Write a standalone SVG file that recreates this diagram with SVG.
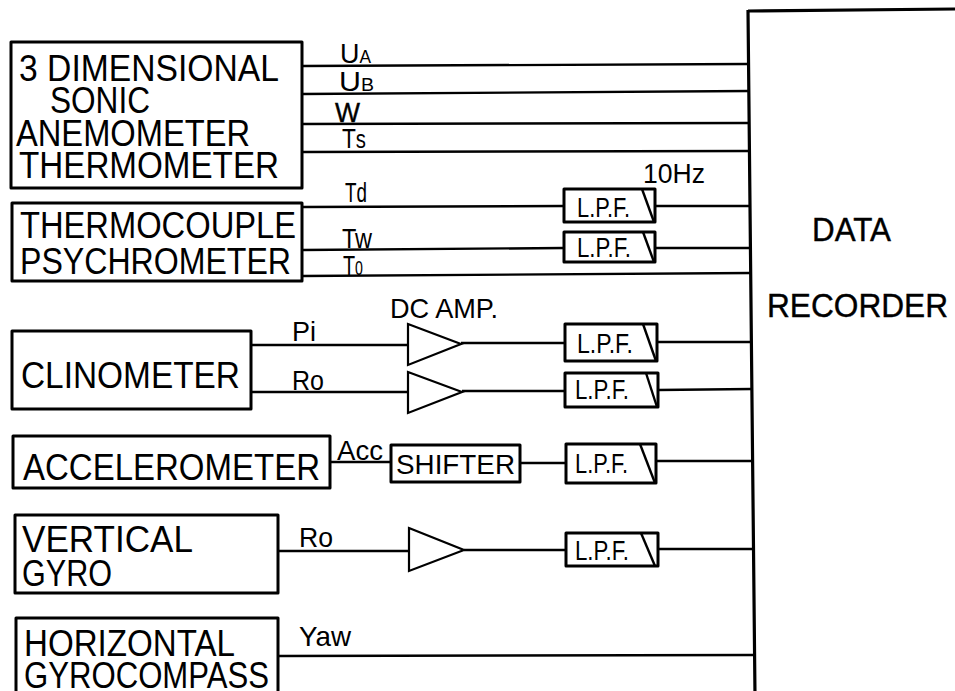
<svg xmlns="http://www.w3.org/2000/svg" width="955" height="691" viewBox="0 0 955 691">
<style>
text{font-family:"Liberation Sans",Arial,sans-serif;fill:#000;font-size:36px}
.m{font-size:28px}
.f{font-size:28px;stroke:#000;stroke-width:.4px}
.b{fill:#fff;stroke:#000;stroke-width:3px;stroke-linejoin:round}
.t{fill:#fff;stroke:#000;stroke-width:2.2px}
.c line{stroke:#000;stroke-width:2.4px}
.d{stroke:#000;stroke-width:2.4px}
</style>
<rect width="955" height="691" fill="#fff"/>
<g id="connectors" class="c">
<line x1="302" y1="66" x2="748" y2="64"/>
<line x1="302" y1="94" x2="749" y2="91"/>
<line x1="299" y1="124" x2="749" y2="123"/>
<line x1="302" y1="152" x2="750" y2="151"/>
<line x1="302" y1="207" x2="564" y2="206"/>
<line x1="655" y1="206" x2="750" y2="206"/>
<line x1="302" y1="250" x2="564" y2="248"/>
<line x1="655" y1="248" x2="751" y2="248"/>
<line x1="302" y1="276" x2="751" y2="273"/>
<line x1="251" y1="345" x2="408" y2="345"/>
<line x1="461" y1="343" x2="565" y2="343"/>
<line x1="657" y1="342" x2="752" y2="342"/>
<line x1="251" y1="392" x2="408" y2="392"/>
<line x1="462" y1="391" x2="565" y2="391"/>
<line x1="658" y1="390" x2="752" y2="389"/>
<line x1="330" y1="462" x2="391" y2="462"/>
<line x1="520" y1="463" x2="566" y2="463"/>
<line x1="656" y1="461" x2="752" y2="461"/>
<line x1="278" y1="551" x2="409" y2="551"/>
<line x1="464" y1="550" x2="566" y2="550"/>
<line x1="658" y1="549" x2="754" y2="549"/>
<line x1="278" y1="656" x2="754" y2="655"/>
</g>
<g id="sonic"><rect class="b" x="11" y="42" width="291" height="146"/>
<text x="19" y="81" textLength="260" lengthAdjust="spacingAndGlyphs">3 DIMENSIONAL</text>
<text x="50" y="113" textLength="100" lengthAdjust="spacingAndGlyphs">SONIC</text>
<text x="16" y="146" textLength="234" lengthAdjust="spacingAndGlyphs">ANEMOMETER</text>
<text x="19" y="178" textLength="260" lengthAdjust="spacingAndGlyphs">THERMOMETER</text></g>
<g id="psychrometer"><rect class="b" x="12" y="203" width="290" height="78"/>
<text x="20" y="238" textLength="276" lengthAdjust="spacingAndGlyphs">THERMOCOUPLE</text>
<text x="20" y="274" textLength="271" lengthAdjust="spacingAndGlyphs">PSYCHROMETER</text></g>
<g id="clinometer"><rect class="b" x="12" y="331" width="239" height="78"/>
<text x="21" y="388" textLength="219" lengthAdjust="spacingAndGlyphs">CLINOMETER</text></g>
<g id="accelerometer"><rect class="b" x="13" y="436" width="317" height="52"/>
<text x="23" y="480" textLength="297" lengthAdjust="spacingAndGlyphs">ACCELEROMETER</text></g>
<g id="vertical-gyro"><rect class="b" x="15" y="515" width="263" height="78"/>
<text x="22" y="552" textLength="171" lengthAdjust="spacingAndGlyphs">VERTICAL</text>
<text x="22" y="586" textLength="90" lengthAdjust="spacingAndGlyphs">GYRO</text></g>
<g id="horizontal-gyrocompass"><rect class="b" x="16" y="618" width="262" height="90"/>
<text x="24" y="656" textLength="211" lengthAdjust="spacingAndGlyphs">HORIZONTAL</text>
<text x="24" y="688" textLength="245" lengthAdjust="spacingAndGlyphs">GYROCOMPASS</text></g>
<g id="recorder">
<path d="M748 11L955 9M748 10L755 695" fill="none" stroke="#000" stroke-width="3.2"/>
<text x="812" y="241" class="f" style="font-size:33px" textLength="79" lengthAdjust="spacingAndGlyphs">DATA</text>
<text x="767" y="317" class="f" style="font-size:34px" textLength="181" lengthAdjust="spacingAndGlyphs">RECORDER</text></g>
<g id="amp1"><path class="t" d="M408 324L461 344L408 365Z"/></g>
<g id="amp2"><path class="t" d="M408 372L462 392L408 413Z"/></g>
<g id="amp3"><path class="t" d="M409 528L464 550L409 571Z"/></g>
<g id="shifter"><rect class="b" x="391" y="445" width="129" height="37"/>
<text x="396" y="474" class="m" textLength="119" lengthAdjust="spacingAndGlyphs">SHIFTER</text></g>
<g id="lpf1"><rect class="b" x="564" y="189" width="91" height="33"/><line class="d" x1="642" y1="189" x2="654" y2="222"/>
<text x="577" y="217" class="m" textLength="53" lengthAdjust="spacingAndGlyphs">L.P.F.</text></g>
<g id="lpf2"><rect class="b" x="564" y="232" width="91" height="30"/><line class="d" x1="643" y1="232" x2="654" y2="262"/>
<text x="577" y="257" class="m" textLength="54" lengthAdjust="spacingAndGlyphs">L.P.F.</text></g>
<g id="lpf3"><rect class="b" x="565" y="324" width="92" height="37"/><line class="d" x1="643" y1="324" x2="656" y2="361"/>
<text x="577" y="353" class="m" textLength="56" lengthAdjust="spacingAndGlyphs">L.P.F.</text></g>
<g id="lpf4"><rect class="b" x="565" y="373" width="93" height="34"/><line class="d" x1="646" y1="373" x2="657" y2="407"/>
<text x="575" y="399" class="m" textLength="54" lengthAdjust="spacingAndGlyphs">L.P.F.</text></g>
<g id="lpf5"><rect class="b" x="566" y="444" width="90" height="39"/><line class="d" x1="640" y1="444" x2="655" y2="483"/>
<text x="575" y="473" class="m" textLength="53" lengthAdjust="spacingAndGlyphs">L.P.F.</text></g>
<g id="lpf6"><rect class="b" x="566" y="533" width="92" height="33"/><line class="d" x1="641" y1="533" x2="655" y2="566"/>
<text x="575" y="560" class="m" textLength="54" lengthAdjust="spacingAndGlyphs">L.P.F.</text></g>
<g id="labels">
<text x="340" y="63" class="m" textLength="31" lengthAdjust="spacingAndGlyphs">U<tspan style="font-size:18px">A</tspan></text>
<text x="339" y="91" class="m" textLength="35" lengthAdjust="spacingAndGlyphs">U<tspan style="font-size:18px">B</tspan></text>
<text x="335" y="122" class="f" textLength="25" lengthAdjust="spacingAndGlyphs">W</text>
<text x="342" y="148" class="m" textLength="24" lengthAdjust="spacingAndGlyphs">T<tspan style="font-size:25px">s</tspan></text>
<text x="345" y="202" class="m" textLength="22" lengthAdjust="spacingAndGlyphs">Td</text>
<text x="342" y="248" class="m" textLength="30" lengthAdjust="spacingAndGlyphs">Tw</text>
<text x="343" y="275" class="m" textLength="20" lengthAdjust="spacingAndGlyphs">T<tspan style="font-size:20px">0</tspan></text>
<text x="292" y="341" class="m" textLength="24" lengthAdjust="spacingAndGlyphs">Pi</text>
<text x="390" y="318" class="m" textLength="108" lengthAdjust="spacingAndGlyphs">DC AMP.</text>
<text x="292" y="390" class="m" textLength="32" lengthAdjust="spacingAndGlyphs">Ro</text>
<text x="337" y="460" class="m" textLength="46" lengthAdjust="spacingAndGlyphs">Acc</text>
<text x="299" y="547" class="m" textLength="34" lengthAdjust="spacingAndGlyphs">Ro</text>
<text x="299" y="646" class="m" textLength="52" lengthAdjust="spacingAndGlyphs">Yaw</text>
<text x="643" y="183" class="m" textLength="62" lengthAdjust="spacingAndGlyphs">10Hz</text>
</g>
</svg>
